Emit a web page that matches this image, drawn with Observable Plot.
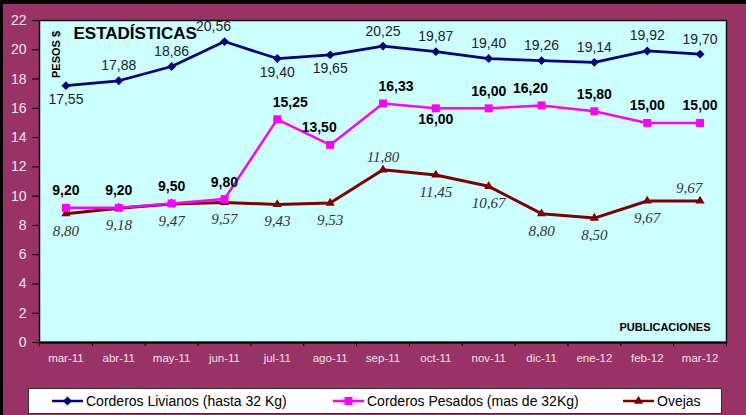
<!DOCTYPE html>
<html>
<head>
<meta charset="utf-8">
<script src="https://cdn.jsdelivr.net/npm/d3@7"></script>
<script src="https://cdn.jsdelivr.net/npm/@observablehq/plot@0.6"></script>
<style>
  html, body { margin: 0; padding: 0; background: #993366; }
  #wrap { position: relative; width: 746px; height: 415px; background: #993366; overflow: hidden; font-family: "Liberation Sans", Arial, sans-serif; }
  #chart { position: absolute; left: 0; top: 0; }
  .bar { position: absolute; background: #000; }
  #legend { position: absolute; left: 28px; top: 388px; width: 694px; height: 26px; box-sizing: border-box; background: #fff; border: 1px solid #333; }
  .item { position: absolute; top: 0; height: 24px; display: flex; align-items: center; font-size: 14px; color: #000; white-space: nowrap; }
  .item svg { margin-right: 3px; }
</style>
</head>
<body>
<div id="wrap">
  <div id="chart"></div>
  <div class="bar" style="left:0;top:0;width:746px;height:4px"></div>
  <div class="bar" style="left:0;top:0;width:3px;height:415px"></div>
  <div id="legend"></div>
</div>
<script>
// ---- data ----
const months = ["mar-11","abr-11","may-11","jun-11","jul-11","ago-11","sep-11","oct-11","nov-11","dic-11","ene-12","feb-12","mar-12"];
const livianos = [17.55, 17.88, 18.86, 20.56, 19.40, 19.65, 20.25, 19.87, 19.40, 19.26, 19.14, 19.92, 19.70];
const pesados  = [9.20, 9.20, 9.50, 9.80, 15.25, 13.50, 16.33, 16.00, 16.00, 16.20, 15.80, 15.00, 15.00];
const ovejas   = [8.80, 9.18, 9.47, 9.57, 9.43, 9.53, 11.80, 11.45, 10.67, 8.80, 8.50, 9.67, 9.67];
const yTicks = [0, 2, 4, 6, 8, 10, 12, 14, 16, 18, 20, 22];
const seriesNames = ["Corderos Livianos (hasta 32 Kg)", "Corderos Pesados (mas de 32Kg)", "Ovejas"];
// label placement (annotation layout)
const livianosPos = ["below","above","above","above-left","below","below","above","above","above","above","above","above","above"];
const pesadosPos  = ["above","above","above","above","above-right","above-left","above-right","below","above","above-left","above","above","above"];
const ovejasPos   = ["below","below","below","below","below","below","above","below","below","below","below","below","above-left"];

const fmt = v => v.toFixed(2).replace(".", ",");
const rows = (vals, pos) => vals.map((v, i) => ({i, v, pos: pos[i], label: fmt(v)}));

const dL = rows(livianos, livianosPos);
const dP = rows(pesados, pesadosPos);
const dO = rows(ovejas, ovejasPos);

const C_L = "#000080", C_P = "#ff00ff", C_O = "#800000";
const SANS = "Liberation Sans, Arial, sans-serif";
const SERIF = "Liberation Serif, Times New Roman, serif";

function labels(data, style, offs) {
  const out = [];
  for (const [pos, dy, dx] of [["above", offs.up, 0], ["below", offs.down, 0], ["above-left", offs.up, -11], ["above-right", offs.up, 13]]) {
    out.push(Plot.text(data.filter(d => d.pos === pos), {x: "i", y: "v", text: "label", dy, dx, ...style}));
  }
  return out;
}

const chart = Plot.plot({
  width: 746,
  height: 380,
  marginLeft: 39,
  marginRight: 20,
  marginTop: 20,
  marginBottom: 38,
  style: {background: "transparent", fontFamily: SANS, overflow: "visible"},
  x: {type: "linear", domain: [-0.5, 12.5], label: null},
  y: {domain: [0, 22], label: null},
  marks: [
    Plot.frame({fill: "#ccffff", stroke: "#111", strokeWidth: 1.5}),
    Plot.axisY({ticks: yTicks, tickSize: 7, tickPadding: 6, stroke: "#000", fill: "#f3e4ee", fontSize: 14, fontFamily: SANS, label: null}),
    Plot.axisX({ticks: d3.range(13), tickFormat: i => months[i], tickSize: 0, tickPadding: 11, fill: "#f0e0ea", fontSize: 11.5, fontFamily: SANS, label: null}),
    Plot.axisX({ticks: d3.range(14).map(k => k - 0.5), tickSize: 4, stroke: "#000", fill: "none", label: null}),
    Plot.ruleY([0], {stroke: "#000", strokeWidth: 2}),
    Plot.line(dO, {x: "i", y: "v", stroke: C_O, strokeWidth: 3}),
    Plot.line(dP, {x: "i", y: "v", stroke: C_P, strokeWidth: 2.5}),
    Plot.line(dL, {x: "i", y: "v", stroke: C_L, strokeWidth: 2.7}),
    Plot.dot(dO, {x: "i", y: "v", symbol: "triangle", r: 3.4, fill: C_O, stroke: "none"}),
    Plot.dot(dP, {x: "i", y: "v", symbol: "square", r: 4.5, fill: C_P, stroke: "none"}),
    Plot.dot(dL, {x: "i", y: "v", symbol: "diamond2", r: 4, fill: C_L, stroke: "none"}),
    ...labels(dL, {fontSize: 14, fontFamily: SANS, fill: "#222"}, {up: -15, down: 14}),
    ...labels(dP, {fontSize: 14, fontFamily: SANS, fontWeight: "bold", fill: "#000"}, {up: -17, down: 11}),
    ...labels(dO, {fontSize: 15, fontFamily: SERIF, fontStyle: "italic", fill: "#333"}, {up: -13, down: 17}),
    Plot.text(["ESTADÍSTICAS"], {frameAnchor: "top-left", dx: 34, dy: 13, text: d => d, fontSize: 17, fontWeight: "bold", fontFamily: SANS, fill: "#000", textAnchor: "start", lineAnchor: "middle"}),
    Plot.text(["PESOS $"], {frameAnchor: "top-left", dx: 17, dy: 34, text: d => d, rotate: -90, fontSize: 11, fontWeight: "bold", fontFamily: SANS, fill: "#000", textAnchor: "middle", lineAnchor: "middle"}),
    Plot.text(["PUBLICACIONES"], {frameAnchor: "bottom-right", dx: -16, dy: -15, text: d => d, fontSize: 11, fontWeight: "bold", fontFamily: SANS, fill: "#000", textAnchor: "end", lineAnchor: "middle"})
  ]
});
document.getElementById("chart").appendChild(chart);

// ---- legend ----
const legendItems = [
  {name: seriesNames[0], color: C_L, symbol: d3.symbolDiamond2, size: 50, left: 23},
  {name: seriesNames[1], color: C_P, symbol: d3.symbolSquare, size: 64, left: 304},
  {name: seriesNames[2], color: C_O, symbol: d3.symbolTriangle, size: 36, left: 594}
];
const legend = d3.select("#legend");
for (const it of legendItems) {
  const item = legend.append("div").attr("class", "item").style("left", it.left + "px");
  const svg = item.append("svg").attr("width", 31).attr("height", 12);
  svg.append("line").attr("x1", 0).attr("x2", 31).attr("y1", 6).attr("y2", 6).attr("stroke", it.color).attr("stroke-width", 2.5);
  svg.append("path").attr("d", d3.symbol(it.symbol, it.size)()).attr("transform", "translate(15.5,6)").attr("fill", it.color);
  item.append("span").text(it.name);
}
</script>
</body>
</html>
